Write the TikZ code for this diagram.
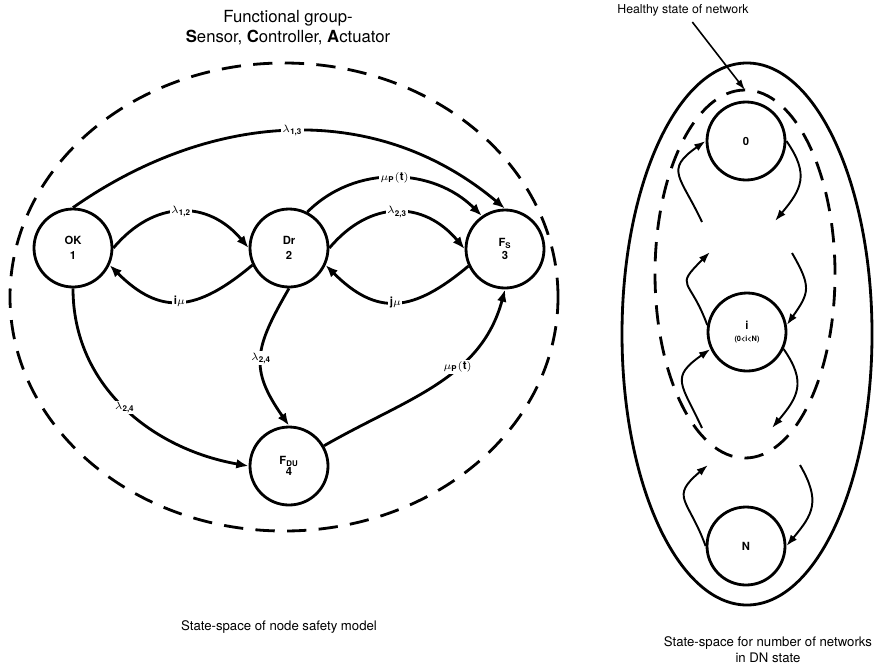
\documentclass[tikz,border=0pt]{standalone}
\usepackage{amsmath}
\usepackage{fontspec}
\setmainfont{TeX Gyre Heros}
\usetikzlibrary{arrows.meta}

\tikzset{
  statecirc/.style={circle, draw, line width=1.6pt, minimum size=1.56cm, inner sep=0pt,
    align=center, font=\fontsize{6.4}{8.2}\selectfont\bfseries},
  trans/.style={line width=1.6pt, -{Latex[length=7pt,width=5.5pt]}},
  hop/.style={line width=1.1pt, -{Latex[length=6.5pt,width=4.5pt]}},
  rate/.style={fill=white, inner sep=0.8pt, font=\fontsize{6.5}{7}\selectfont},
  boundary/.style={line width=1.6pt, dash pattern=on 11pt off 7pt},
}

\begin{document}
\begin{tikzpicture}
    \useasboundingbox (0,0) rectangle (17.68,-13.36);

    % node safety model
    \node[font=\fontsize{9.5}{11.5}\selectfont, align=center] (title) at (5.76,-0.56)
        {Functional group-\\\textbf{S}ensor, \textbf{C}ontroller, \textbf{A}ctuator};
    \draw[boundary] (5.68,-5.94) ellipse (5.48 and 4.68);

    \node[statecirc] (ok) at (1.46,-4.96) {OK\\1};
    \node[statecirc] (dr) at (5.78,-4.96) {Dr\\2};
    \node[statecirc] (fs) at (10.1,-4.98) {F\textsubscript{S}\\[-1pt]3};
    \node[statecirc] (fdu) at (5.78,-9.32) {F\textsubscript{DU}\\[-2pt]4};

    \draw[trans] (ok.north) to[out=35,in=140] node[rate] {$\lambda_{\text{\bfseries 1,3}}$} (fs.north);
    \draw[trans] (ok.east) to[out=50,in=130,looseness=1.2] node[rate] {$\lambda_{\text{\bfseries 1,2}}$} (dr.west);
    \draw[trans] (dr.205) to[out=220,in=-45,looseness=1.3] node[rate] {$\mathbf{i}\mu$} (ok.-25);
    \draw[trans] (dr.63) to[out=45,in=135] node[rate] {$\mu_{\mathbf{P}}\mathbf{(t)}$} (fs.125);
    \draw[trans] (dr.east) to[out=50,in=130,looseness=1.2] node[rate] {$\lambda_{\text{\bfseries 2,3}}$} (fs.west);
    \draw[trans] (fs.205) to[out=220,in=-45,looseness=1.3] node[rate] {$\mathbf{j}\mu$} (dr.-25);
    \draw[trans] (dr.south) to[out=240,in=125,looseness=1.3] node[rate] {$\lambda_{\text{\bfseries 2,4}}$} (fdu.north);
    \draw[trans] (ok.south) to[out=270,in=170] node[rate] {$\lambda_{\text{\bfseries 2,4}}$} (fdu.west);
    \draw[trans] (fdu.30) to[out=30,in=255] node[rate,pos=0.62] {$\mu_{\mathbf{P}}\mathbf{(t)}$} (fs.south);

    \node[font=\fontsize{7.5}{9}\selectfont] (capL) at (5.58,-12.54) {State-space of node safety model};

    % networks in DN state
    \draw[line width=1.6pt] (14.94,-6.68) ellipse (2.5 and 5.42);
    \draw[boundary] (14.9,-5.48) ellipse (1.8 and 3.68);

    \node[statecirc] (n0) at (14.92,-2.82) {0};
    \node[statecirc] (ni) at (14.94,-6.64) {i\\[-1pt]{\fontsize{4.2}{5}\selectfont (0<i<N)}};
    \node[statecirc] (nN) at (14.92,-10.92) {N};

    \coordinate (c0a) at (14.04,-4.44);
    \coordinate (c0b) at (15.5,-4.42);
    \coordinate (c1a) at (14.2,-5.04);
    \coordinate (c1b) at (15.84,-5.06);
    \coordinate (c2a) at (14.04,-8.56);
    \coordinate (c2b) at (15.44,-8.56);
    \coordinate (c3a) at (14.16,-9.3);
    \coordinate (c3b) at (16.0,-9.3);

    \draw[hop] (c0a) to[out=115,in=215,looseness=1.6] (n0.west);
    \draw[hop] (n0.east) to[out=-55,in=50,looseness=1.3] (c0b);
    \draw[hop] (ni.170) to[out=110,in=225,looseness=1.8] (c1a);
    \draw[hop] (c1b) to[out=-60,in=55,looseness=1.4] (ni.10);
    \draw[hop] (c2a) to[out=115,in=215,looseness=1.6] (ni.205);
    \draw[hop] (ni.-25) to[out=-55,in=50,looseness=1.3] (c2b);
    \draw[hop] (nN.west) to[out=110,in=220,looseness=1.6] (c3a);
    \draw[hop] (c3b) to[out=-60,in=50,looseness=1.3] (nN.east);

    \node[font=\fontsize{7}{8.5}\selectfont] (healthy) at (13.66,-0.2) {Healthy state of network};
    \coordinate (htip) at (14.9,-1.8);
    \draw[line width=0.9pt, -{Latex[length=6pt,width=4pt]}] (healthy) -- (htip);

    \node[font=\fontsize{7.5}{9}\selectfont, align=center] (capR) at (15.36,-13.0)
        {State-space for number of networks\\in DN state};
\end{tikzpicture}
\end{document}
